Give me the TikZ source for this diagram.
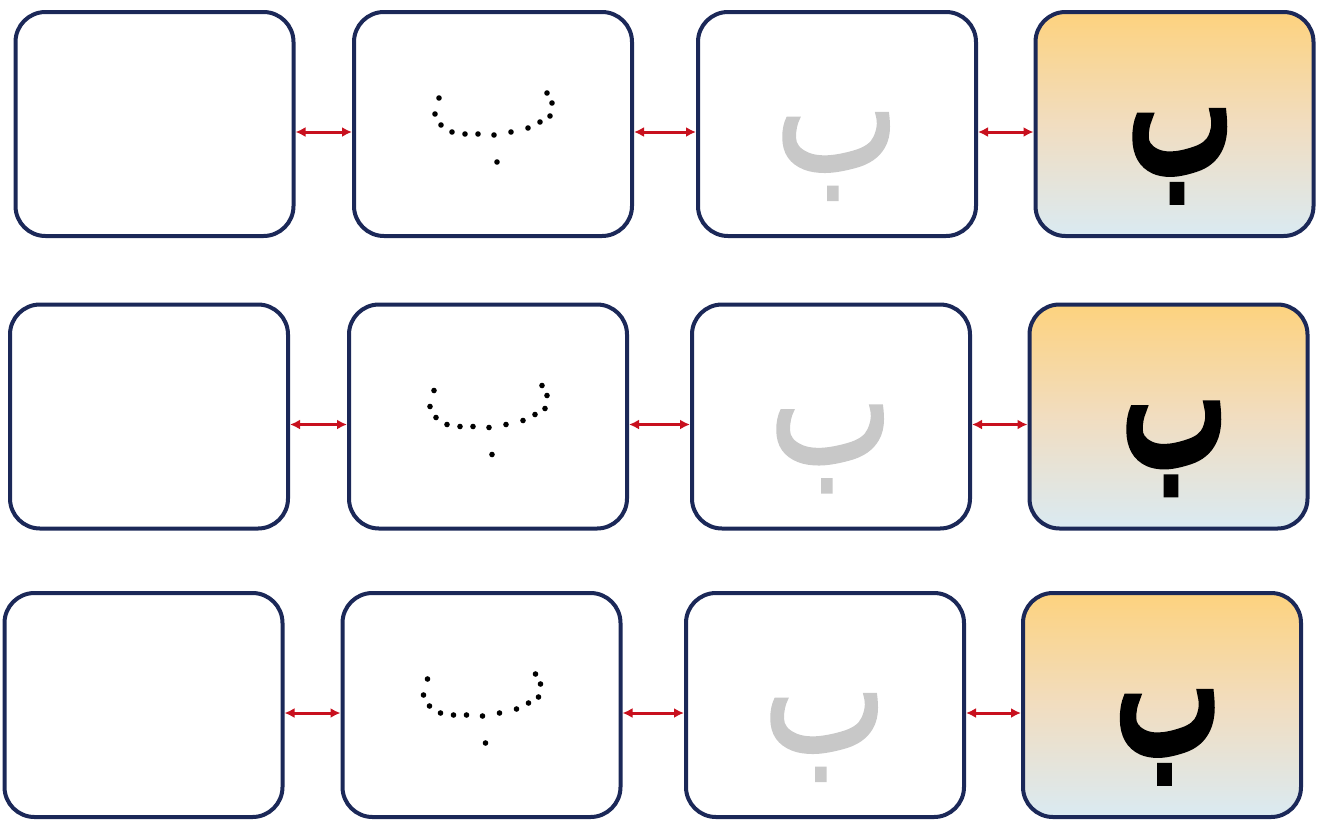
\documentclass[tikz,border=0pt]{standalone}
\usepackage{fontspec}
\usepackage{graphicx}
\newfontfamily\arabicfont[Script=Arabic,FakeBold=1.5]{DejaVu Sans}
\newfontfamily\arabicheavy[Script=Arabic,FakeBold=6]{DejaVu Sans}
\TeXXeTstate=1
\usetikzlibrary{arrows.meta}
\definecolor{navy}{HTML}{1B2858}
\definecolor{arrred}{HTML}{C8101E}
\definecolor{gtop}{HTML}{FDD27E}
\definecolor{gmid}{HTML}{F1DDC0}
\definecolor{gbot}{HTML}{DAEAF2}
\definecolor{lightgrey}{HTML}{C8C8C8}
\tikzset{
  box/.style={draw=navy, line width=4pt, rounded corners=30pt, fill=white, minimum width=278pt, minimum height=224pt, inner sep=0pt},
  gradbox/.style={box, top color=gtop, bottom color=gbot, middle color=gmid},
  conn/.style={draw=arrred, line width=3pt, {Latex[length=10pt,width=10pt]}-{Latex[length=10pt,width=10pt]}},
  bigletter/.style={font=\arabicheavy\fontsize{116}{116}\selectfont, text=black, inner sep=0pt, anchor=base},
  greyletter/.style={font=\arabicfont\fontsize{120}{120}\selectfont, text=lightgrey, inner sep=0pt, anchor=base},
  dotpt/.style={fill=black, draw=none}
}
\begin{document}
\begin{tikzpicture}[x=1pt,y=-1pt]
\useasboundingbox[fill=white] (0,0) rectangle (1326,823);
\foreach \r/\cy/\xa/\xb/\xc/\xd in {1/124/154.5/493/837/1174.5, 2/416.5/149/488/831/1168.5, 3/705/143.5/481.5/825/1162}{
  \node[box] (b\r a) at (\xa,\cy) {};
  \node[box] (b\r b) at (\xb,\cy) {};
  \node[box] (b\r c) at (\xc,\cy) {};
  \node[gradbox] (b\r d) at (\xd,\cy) {};
  \node[bigletter] (L\r d) at ([xshift=6pt,yshift=-46pt]b\r d.center) {\scalebox{0.95}[1.5]{\beginR ب\endR}};
  \node[greyletter] (L\r c) at ([xshift=0pt,yshift=-46pt]b\r c.center) {\scalebox{1.1}[1.45]{\beginR ب\endR}};
  \foreach \dx/\dy in {-54/-26,-58/-10,-52/1,-41/8,-28/10,-15/10,1/11,18/8,35/4,47/-2,57/-8,59/-21,54/-31,4/38}{
    \fill[dotpt] ([xshift=\dx pt,yshift=-\dy pt]b\r b.center) circle (2.8pt);
  }
  \draw[conn] ([yshift=-8pt]b\r a.east) -- ([yshift=-8pt]b\r b.west);
  \draw[conn] ([yshift=-8pt]b\r b.east) -- ([yshift=-8pt]b\r c.west);
  \draw[conn] ([yshift=-8pt]b\r c.east) -- ([yshift=-8pt]b\r d.west);
}
\end{tikzpicture}
\end{document}
